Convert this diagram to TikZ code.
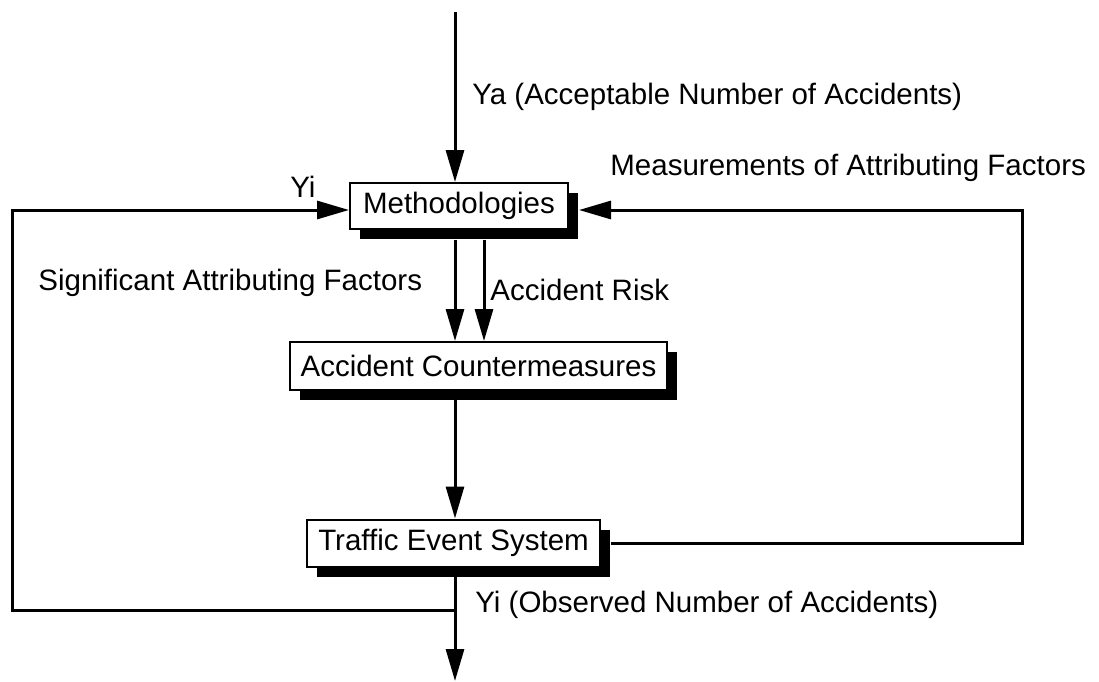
\documentclass[tikz,border=0pt]{standalone}
\usepackage{fontspec}
\setmainfont{Liberation Sans}
\usetikzlibrary{arrows.meta,shadows}
\begin{document}
\begin{tikzpicture}[x=0.5pt,y=-0.5pt,
  every node/.style={font=\fontsize{14.75}{17}\selectfont},
  box/.style={draw=black,line width=1pt,fill=white,inner sep=0pt,
    drop shadow={shadow xshift=5pt,shadow yshift=-5pt,fill=black,opacity=1}},
  lbl/.style={inner sep=0pt,anchor=west},
  wire/.style={line width=1.5pt},
  flow/.style={wire,-{Triangle[length=16pt,width=9pt]}}]
\useasboundingbox (0,0) rectangle (1099,681);

% blocks
\node[box,minimum width=109pt,minimum height=23pt] (meth) at (459,206) {Methodologies};
\node[box,minimum width=188.5pt,minimum height=24pt] (acm) at (478.5,366) {Accident Countermeasures};
\node[box,minimum width=146.5pt,minimum height=23.5pt] (tes) at (453.5,543) {Traffic Event System};

% labels
\node[lbl] (ya) at (472,97) {Ya (Acceptable Number of Accidents)};
\node[lbl] (meas) at (610,168) {Measurements of Attributing Factors};
\node[lbl] (yi) at (290,187) {Yi};
\node[lbl] (sig) at (38,283) {Significant Attributing Factors};
\node[lbl] (risk) at (490,290) {Accident Risk};
\node[lbl] (obs) at (475,605) {Yi (Observed Number of Accidents)};

% helper points
\coordinate (top) at (455,12);
\coordinate (bottom) at (455,681);
\coordinate (lb) at (12,610);
\coordinate (lt) at (12,210);
\coordinate (rb) at (1022,543);
\coordinate (rt) at (1022,210);
\coordinate (sa) at ([shift={(-4,10)}]meth.south);
\coordinate (sb) at ([shift={(25,10)}]meth.south);
\coordinate (mr) at ([xshift=5pt]meth.east);
\coordinate (tr) at ([xshift=5pt]tes.east);

% main flow
\draw[flow] (top) -- (top |- meth.north);
\draw[flow] (sa) -- (sa |- acm.north);
\draw[flow] (sb) -- (sb |- acm.north);
\draw[flow] (sa |- acm.south) -- (sa |- tes.north);
\draw[flow] (sa |- tes.south) -- (bottom);

% feedback loops
\draw[flow] (sa |- lb) -- (lb) -- (lt) -- (lt -| meth.west);
\draw[flow] (tr) -- (rb) -- (rt) -- (mr |- rt);
\end{tikzpicture}
\end{document}
